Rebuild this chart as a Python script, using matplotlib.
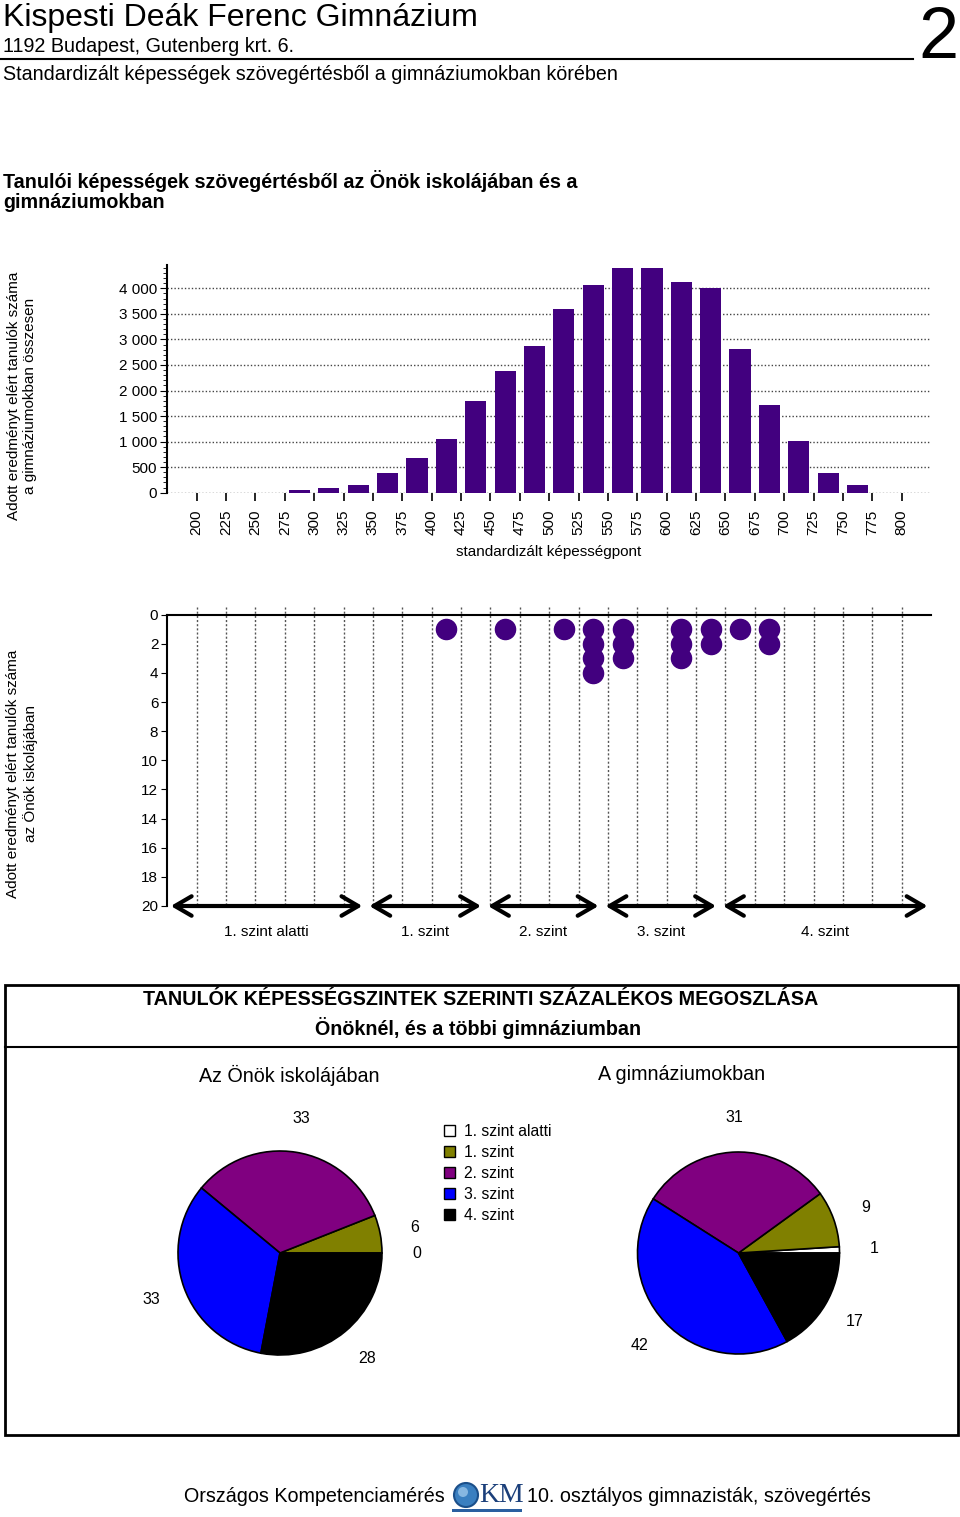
import matplotlib
matplotlib.use("Agg")
import matplotlib.pyplot as plt
from matplotlib.patches import Patch, Rectangle, Circle
from matplotlib.lines import Line2D
from matplotlib.ticker import MultipleLocator

plt.rcParams['font.family'] = ['Liberation Sans', 'DejaVu Sans']

# histogram bins (lower edges) and counts for all gimnaziums
bin_starts = [200, 225, 250, 275, 300, 325, 350, 375, 400, 425, 450, 475,
              500, 525, 550, 575, 600, 625, 650, 675, 700, 725, 750, 775]
all_counts = [0, 0, 0, 60, 90, 150, 380, 670, 1050, 1800, 2380, 2875,
              3600, 4065, 4390, 4390, 4120, 4005, 2818, 1716, 1017, 380, 145, 0]
# students of this school in each bin
school_counts = [0, 0, 0, 0, 0, 0, 0, 0, 1, 0, 1, 0,
                 1, 4, 3, 0, 3, 2, 1, 2, 0, 0, 0, 0]
tick_values = [200, 225, 250, 275, 300, 325, 350, 375, 400, 425, 450, 475, 500,
               525, 550, 575, 600, 625, 650, 675, 700, 725, 750, 775, 800]

level_names = ['1. szint alatti', '1. szint', '2. szint', '3. szint', '4. szint']
level_edges = [175, 344, 445, 545, 645, 825]
school_pct = [0, 6, 33, 33, 28]
all_pct = [1, 9, 31, 42, 17]
level_colors = ['white', '#808000', '#800080', '#0000FF', 'black']

purple = '#42007F'
W, H = 960, 1517


def fx(x):
    return x / W


def fy(y):
    return 1 - y / H


fig = plt.figure(figsize=(9.6, 15.17), dpi=100)

# header
fig.text(fx(3), fy(18), 'Kispesti Deák Ferenc Gimnázium', fontsize=23, va='center')
fig.text(fx(3), fy(46), '1192 Budapest, Gutenberg krt. 6.', fontsize=14.2, va='center')
fig.add_artist(Line2D([0, fx(913)], [fy(59), fy(59)], color='black', lw=1.5))
fig.text(fx(3), fy(75), 'Standardizált képességek szövegértésből a gimnáziumokban körében',
         fontsize=14.2, va='center')
fig.text(fx(958), fy(40), '2', fontsize=52, va='center', ha='right')
fig.text(fx(3), fy(191), 'Tanulói képességek szövegértésből az Önök iskolájában és a\ngimnáziumokban',
         fontsize=14.2, fontweight='bold', va='center', linespacing=1.05)

# histogram
x0, x1 = 166.7, 931
ax1 = fig.add_axes([fx(x0), fy(492.7), (x1 - x0) / W, (492.7 - 265) / H])
centers = [b + 12.5 for b in bin_starts]
ax1.bar(centers, all_counts, width=18, color=purple, zorder=3)
ax1.set_xlim(174.5, 825)
ax1.set_ylim(0, 4456)
ax1.set_yticks(range(0, 4001, 500))
ax1.set_yticklabels([f"{v:,}".replace(',', ' ') for v in range(0, 4001, 500)], fontsize=11)
ax1.yaxis.set_minor_locator(MultipleLocator(100))
ax1.set_xticks(tick_values)
ax1.set_xticklabels([str(v) for v in tick_values], fontsize=11, rotation=90)
ax1.tick_params(axis='x', length=6, width=1.2, pad=6)
ax1.tick_params(axis='y', which='major', length=5, pad=2)
ax1.tick_params(axis='y', which='minor', length=3)
ax1.grid(axis='y', linestyle=(0, (1, 1.5)), color='#444444', lw=1, zorder=1)
for s in ['top', 'right', 'bottom']:
    ax1.spines[s].set_visible(False)
ax1.spines['left'].set_linewidth(1.5)
ax1.set_xlabel('standardizált képességpont', fontsize=11, labelpad=7)
fig.text(fx(22), fy(396), 'Adott eredményt elért tanulók száma\na gimnáziumokban összesen',
         rotation=90, fontsize=11, ha='center', va='center', multialignment='center')

# school dot plot
ax2 = fig.add_axes([fx(x0), fy(906), (x1 - x0) / W, (906 - 614.7) / H])
ax2.set_xlim(174.5, 825)
ax2.set_ylim(20, 0)
ax2.vlines(tick_values, -0.5, 20, colors='#555555', linestyles=(0, (1.5, 1.5)), lw=1,
           clip_on=False, zorder=1)
for c, n in zip(centers, school_counts):
    if n > 0:
        ax2.plot([c] * n, list(range(1, n + 1)), 'o', ms=14.5, color=purple,
                 zorder=3, clip_on=False)
ax2.set_xticks([])
ax2.set_yticks(range(0, 21, 2))
ax2.set_yticklabels([str(v) for v in range(0, 21, 2)], fontsize=11)
ax2.tick_params(axis='y', length=4, pad=2)
for s in ['right', 'bottom']:
    ax2.spines[s].set_visible(False)
ax2.spines['left'].set_linewidth(1.5)
ax2.spines['top'].set_linewidth(1.5)
for i, name in enumerate(level_names):
    a, b = level_edges[i] + 3, level_edges[i + 1] - 3
    ax2.annotate('', xy=(b, 20), xytext=(a, 20), annotation_clip=False,
                 arrowprops=dict(arrowstyle='<->, head_length=0.6, head_width=0.35',
                                 lw=3, color='black', shrinkA=0, shrinkB=0,
                                 mutation_scale=20))
    ax2.text((a + b) / 2, 21.8, name, fontsize=11, ha='center', va='center', clip_on=False)
fig.text(fx(22), fy(774), 'Adott eredményt elért tanulók száma\naz Önök iskolájában',
         rotation=90, fontsize=11, ha='center', va='center', multialignment='center')

# pie section box
fig.add_artist(Rectangle((fx(5), fy(1435)), fx(953), (1435 - 985) / H, fill=False,
                         edgecolor='black', lw=2))
fig.add_artist(Line2D([fx(5), fx(958)], [fy(1047), fy(1047)], color='black', lw=1.5))
fig.text(fx(481), fy(1000), 'TANULÓK KÉPESSÉGSZINTEK SZERINTI SZÁZALÉKOS MEGOSZLÁSA',
         fontsize=14.2, fontweight='bold', ha='center', va='center')
fig.text(fx(478), fy(1028), 'Önöknél, és a többi gimnáziumban',
         fontsize=14.2, fontweight='bold', ha='center', va='center')
fig.text(fx(289), fy(1075), 'Az Önök iskolájában', fontsize=14.2, ha='center', va='center')
fig.text(fx(682), fy(1075), 'A gimnáziumokban', fontsize=14.2, ha='center', va='center')


def draw_pie(cx, cy, r, values):
    half = 160
    ax = fig.add_axes([fx(cx - half), fy(cy + half), 2 * half / W, 2 * half / H])
    wedges, texts = ax.pie(values, colors=level_colors, labels=[str(v) for v in values],
                           labeldistance=1.34, startangle=0, counterclock=True,
                           wedgeprops=dict(edgecolor='black', linewidth=1.2),
                           textprops=dict(fontsize=11.5))
    for t in texts:
        t.set_ha('center')
        t.set_va('center')
    lim = half / r
    ax.set_xlim(-lim, lim)
    ax.set_ylim(-lim, lim)
    ax.set_aspect('equal')
    ax.axis('off')


draw_pie(280, 1253, 102, school_pct)
draw_pie(738.5, 1253, 101, all_pct)

handles = [Patch(facecolor=c, edgecolor='black', lw=1) for c in level_colors]
fig.legend(handles, level_names, loc='upper left', bbox_to_anchor=(fx(444), fy(1124)),
           frameon=False, fontsize=11.3, handlelength=0.7, handleheight=0.7,
           handletextpad=0.55, labelspacing=0.38, borderpad=0, borderaxespad=0)

# footer
fig.text(fx(445), fy(1497), 'Országos Kompetenciamérés', fontsize=14.2, ha='right', va='center')
fig.text(fx(527), fy(1497), '10. osztályos gimnazisták, szövegértés', fontsize=14.2,
         ha='left', va='center')
axl = fig.add_axes([fx(452), fy(1512), 70 / W, 32 / H])
axl.set_xlim(0, 70)
axl.set_ylim(0, 32)
axl.add_patch(Circle((14, 17), 12, facecolor='#3A7FC0', edgecolor='#1B4F8A', lw=1.5))
axl.add_patch(Circle((11, 20), 5, facecolor='#A8D0F0', edgecolor='none', alpha=0.7))
axl.text(27, 17, 'KM', fontsize=20, family='Liberation Serif', color='#1B3F7A',
         ha='left', va='center')
axl.add_patch(Rectangle((0, 0), 70, 3, facecolor='#2A5FA0', edgecolor='none'))
axl.axis('off')

fig.savefig('out.png', dpi=100)
